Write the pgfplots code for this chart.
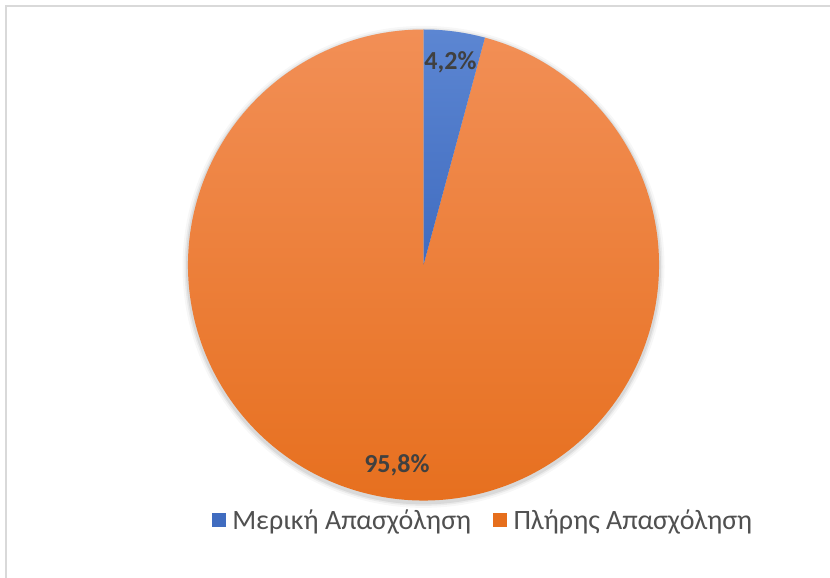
\documentclass[border=0pt]{standalone}
\usepackage{pgfplots}
\pgfplotsset{compat=1.18}
\usepackage{pgfplotstable}
\usepackage{fontspec}
\setmainfont{Carlito}

\definecolor{blueTop}{RGB}{92,134,210}
\definecolor{blueBot}{RGB}{64,108,192}
\definecolor{orangeTop}{RGB}{242,143,86}
\definecolor{orangeBot}{RGB}{230,110,28}
\definecolor{labelgray}{RGB}{64,64,64}
\definecolor{legendgray}{RGB}{80,80,80}
\definecolor{framegray}{RGB}{217,217,217}

% share of employment type, percent
\pgfplotstableread[col sep=semicolon]{
label;value
Μερική Απασχόληση;4.2
Πλήρης Απασχόληση;95.8
}\piedata

\pgfplotstablegetelem{0}{value}\of\piedata \let\va\pgfplotsretval
\pgfplotstablegetelem{1}{value}\of\piedata \let\vb\pgfplotsretval
\pgfmathsetmacro\aEnd{90-3.6*\va}
\pgfmathsetmacro\bEnd{\aEnd-3.6*\vb}
\pgfmathsetmacro\aMid{(90+\aEnd)/2}
\pgfmathsetmacro\bMid{(\aEnd+\bEnd)/2}

\newcommand\pct[1]{\pgfmathprintnumber[fixed,fixed zerofill,precision=1,use comma,assume math mode=true]{#1}\%}

\begin{document}
\begin{tikzpicture}
\useasboundingbox (0,0) rectangle (830bp,578bp);
\fill[white] (0,0) rectangle (830bp,578bp);
\draw[framegray, line width=1.6bp] (5.8bp,0) -- (5.8bp,572.2bp) -- (830bp,572.2bp);
\begin{axis}[
  at={(423.5bp,313bp)}, anchor=center,
  hide axis, scale only axis,
  width=471bp, height=471bp,
  xmin=-1, xmax=1, ymin=-1, ymax=1,
  clip=false,
  legend columns=2,
  legend style={
    at={(0.6265,-0.0415)}, anchor=center,
    draw=none, fill=none,
    font=\fontsize{28bp}{32bp}\selectfont,
    text=legendgray,
    /tikz/every even column/.append style={column sep=20bp},
    /tikz/every odd column/.append style={column sep=5bp},
    inner sep=0pt,
  },
]
% soft shadow
\fill[black, opacity=0.03] (axis cs:0,-0.008) circle[radius=241bp];
\fill[black, opacity=0.05] (axis cs:0,-0.008) circle[radius=239bp];
\fill[black, opacity=0.07] (axis cs:0,-0.008) circle[radius=237.5bp];
% slices
\shade[top color=orangeTop, bottom color=orangeBot]
  (axis cs:0,0) -- ++(\aEnd:235.5bp)
  arc[start angle=\aEnd, end angle=\bEnd, radius=235.5bp] -- cycle;
\shade[top color=blueTop, bottom color=blueBot]
  (axis cs:0,0) -- ++(90:235.5bp)
  arc[start angle=90, end angle=\aEnd, radius=235.5bp] -- cycle;
% data labels
\node[text=labelgray, font=\fontsize{26bp}{30bp}\selectfont\bfseries]
  at (axis cs:{0.87*cos(\aMid)},{0.87*sin(\aMid)}) {\pct{\va}};
\node[text=labelgray, font=\fontsize{26bp}{30bp}\selectfont\bfseries]
  at (axis cs:{0.86*cos(\bMid)},{0.86*sin(\bMid)}) {\pct{\vb}};
\addlegendimage{legend image code/.code={\fill[blueBot] (0bp,-6.5bp) rectangle (13bp,6.5bp);}}
\addlegendentry{Μερική Απασχόληση}
\addlegendimage{legend image code/.code={\fill[orangeBot] (0bp,-6.5bp) rectangle (13bp,6.5bp);}}
\addlegendentry{Πλήρης Απασχόληση}
\end{axis}
\end{tikzpicture}
\end{document}
